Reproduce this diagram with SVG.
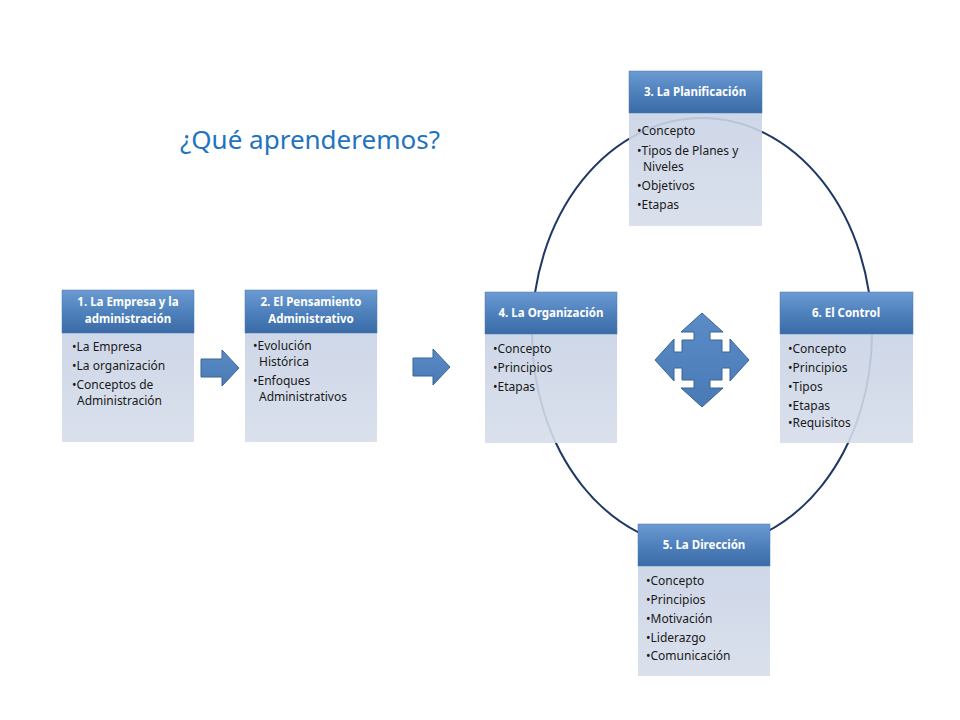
<svg xmlns="http://www.w3.org/2000/svg" width="960" height="720" viewBox="0 0 960 720">
<defs>
<linearGradient id="hg" x1="0" y1="0" x2="0" y2="1"><stop offset="0" stop-color="#6C9BD2"/><stop offset="0.5" stop-color="#4F81BD"/><stop offset="1" stop-color="#3A6BA6"/></linearGradient>
<linearGradient id="bg" x1="0" y1="0" x2="0" y2="1"><stop offset="0" stop-color="#C9D3E6"/><stop offset="1" stop-color="#D6DDEA"/></linearGradient>
<linearGradient id="ag" x1="0" y1="0" x2="0" y2="1"><stop offset="0" stop-color="#5B8CC8"/><stop offset="1" stop-color="#4A7AB5"/></linearGradient>
</defs>
<style>
.h{fill:url(#hg);stroke:#4A78B0;stroke-width:0.5}
.b{fill:url(#bg);opacity:0.9}
.ht{font-family:"Noto Sans","Open Sans",sans-serif;font-size:11.5px;font-weight:bold;fill:#fff;text-anchor:middle}
.bt{font-family:"Noto Sans","Open Sans",sans-serif;font-size:12px;fill:#1a1a1a}
.ar{fill:url(#ag);stroke:#3A6592;stroke-width:1}
</style>
<rect width="960" height="720" fill="#fff"/>
<text x="180" y="149" font-family="Noto Sans, Open Sans, sans-serif" font-size="26" fill="#1F73C0">¿Qué aprenderemos?</text>
<g id="connectors">
<ellipse cx="702" cy="333" rx="170" ry="215" fill="none" stroke="#1F3864" stroke-width="2"/>
<path class="ar" d="M201,359 H222 V350 L239,368 L222,386 V377 H201 Z"/>
<path class="ar" d="M413,358 H433 V349 L450,367 L433,385 V376 H413 Z"/>
<path class="ar" transform="translate(702,360)" d="M0,-47 L21,-28 L8,-28 L8,-20 L20,-20 L20,-8 L28,-8 L28,-21 L47,0 L28,21 L28,8 L20,8 L20,20 L8,20 L8,28 L21,28 L0,47 L-21,28 L-8,28 L-8,20 L-20,20 L-20,8 L-28,8 L-28,21 L-47,0 L-28,-21 L-28,-8 L-20,-8 L-20,-20 L-8,-20 L-8,-28 L-21,-28 Z"/>
</g>
<g id="n1">
<rect class="b" x="62" y="333" width="132" height="109"/>
<rect class="h" x="62" y="290" width="132" height="43"/>
<text class="ht" x="128" y="306">1. La Empresa y la</text>
<text class="ht" x="128" y="323">administración</text>
<text class="bt" x="72" y="351">•La Empresa</text>
<text class="bt" x="72" y="370">•La organización</text>
<text class="bt" x="72" y="389">•Conceptos de</text>
<text class="bt" x="77" y="405">Administración</text>
</g>
<g id="n2">
<rect class="b" x="245" y="333" width="132" height="109"/>
<rect class="h" x="245" y="290" width="132" height="43"/>
<text class="ht" x="311" y="306">2. El Pensamiento</text>
<text class="ht" x="311" y="323">Administrativo</text>
<text class="bt" x="253" y="350">•Evolución</text>
<text class="bt" x="259" y="366">Histórica</text>
<text class="bt" x="253" y="385">•Enfoques</text>
<text class="bt" x="259" y="401">Administrativos</text>
</g>
<g id="n4">
<rect class="b" x="485" y="334" width="132" height="109"/>
<rect class="h" x="485" y="292" width="132" height="42"/>
<text class="ht" x="551" y="317">4. La Organización</text>
<text class="bt" x="493" y="353">•Concepto</text>
<text class="bt" x="493" y="372">•Principios</text>
<text class="bt" x="493" y="391">•Etapas</text>
</g>
<g id="n3">
<rect class="b" x="629" y="113" width="133" height="113"/>
<rect class="h" x="629" y="71" width="133" height="42"/>
<text class="ht" x="695" y="96">3. La Planificación</text>
<text class="bt" x="637" y="135">•Concepto</text>
<text class="bt" x="637" y="155">•Tipos de Planes y</text>
<text class="bt" x="643" y="171">Niveles</text>
<text class="bt" x="637" y="190">•Objetivos</text>
<text class="bt" x="637" y="209">•Etapas</text>
</g>
<g id="n6">
<rect class="b" x="780" y="334" width="133" height="109"/>
<rect class="h" x="780" y="292" width="133" height="42"/>
<text class="ht" x="846" y="317">6. El Control</text>
<text class="bt" x="788" y="353">•Concepto</text>
<text class="bt" x="788" y="372">•Principios</text>
<text class="bt" x="788" y="391">•Tipos</text>
<text class="bt" x="788" y="410">•Etapas</text>
<text class="bt" x="788" y="427">•Requisitos</text>
</g>
<g id="n5">
<rect class="b" x="638" y="566" width="132" height="110"/>
<rect class="h" x="638" y="524" width="132" height="42"/>
<text class="ht" x="704" y="549">5. La Dirección</text>
<text class="bt" x="646" y="585">•Concepto</text>
<text class="bt" x="646" y="604">•Principios</text>
<text class="bt" x="646" y="623">•Motivación</text>
<text class="bt" x="646" y="642">•Liderazgo</text>
<text class="bt" x="646" y="660">•Comunicación</text>
</g>
</svg>
